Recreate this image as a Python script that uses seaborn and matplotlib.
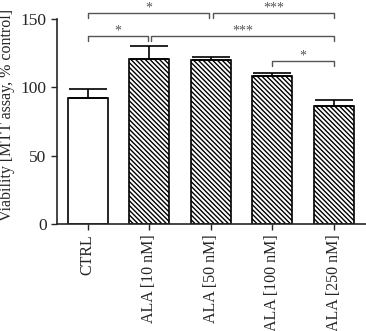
import pandas as pd
import seaborn as sns
import matplotlib.pyplot as plt

groups = ["CTRL", "ALA [10 nM]", "ALA [50 nM]", "ALA [100 nM]", "ALA [250 nM]"]
means = [92, 121, 120, 108, 86.5]
errs = [6.5, 9, 2, 2.2, 4.5]

# brackets: (left group, right group, height, text)
brackets = [
    (0, 2, 154.5, "*"),
    (2, 4, 154.5, "***"),
    (0, 1, 137.5, "*"),
    (1, 4, 137.5, "***"),
    (3, 4, 119.5, "*"),
]

sns.set_theme(style="ticks")
plt.rcParams["font.family"] = ["Liberation Serif", "DejaVu Serif"]
plt.rcParams["hatch.linewidth"] = 1.0

fig = plt.figure(figsize=(3.66, 3.31), dpi=100)
ax = fig.add_axes([0.156, 0.323, 0.844, 0.62])

df = pd.DataFrame({"group": groups, "value": means})
sns.barplot(data=df, x="group", y="value", color="white", edgecolor="black",
            linewidth=1.2, width=0.65, ax=ax)

for i, p in enumerate(ax.patches):
    if i > 0:
        p.set_hatch("\\" * 7)

ax.errorbar(range(len(groups)), means, yerr=[[0] * len(errs), errs], fmt="none",
            ecolor="black", elinewidth=1.2, capsize=14, capthick=1.2)

for a, b, h, t in brackets:
    xa = a + (0.03 if a in (1, 2) and t == "***" else 0)
    xb = b - (0.03 if b in (1, 2) and a == 0 else 0)
    ax.plot([xa, xa, xb, xb], [h - 4, h, h, h - 4], color="#555555", lw=1.0,
            clip_on=False)
    ax.text((xa + xb) / 2, h + 1.0, t, ha="center", va="baseline", fontsize=10,
            color="#555555", clip_on=False)

ax.set_ylim(0, 150)
ax.set_xlim(-0.5, 4.52)
ax.set_yticks([0, 50, 100, 150])
ax.set_xlabel("")
ax.set_ylabel("Viability [MTT assay, % control]", fontsize=11.5)
ax.yaxis.set_label_coords(-0.135, 0.53)
ax.tick_params(axis="x", rotation=90, labelsize=11.5, length=4, width=1)
ax.tick_params(axis="y", labelsize=12.5, length=4, width=1)
sns.despine(ax=ax)
for s in ["left", "bottom"]:
    ax.spines[s].set_linewidth(1.2)

fig.savefig("out.png", dpi=100)
